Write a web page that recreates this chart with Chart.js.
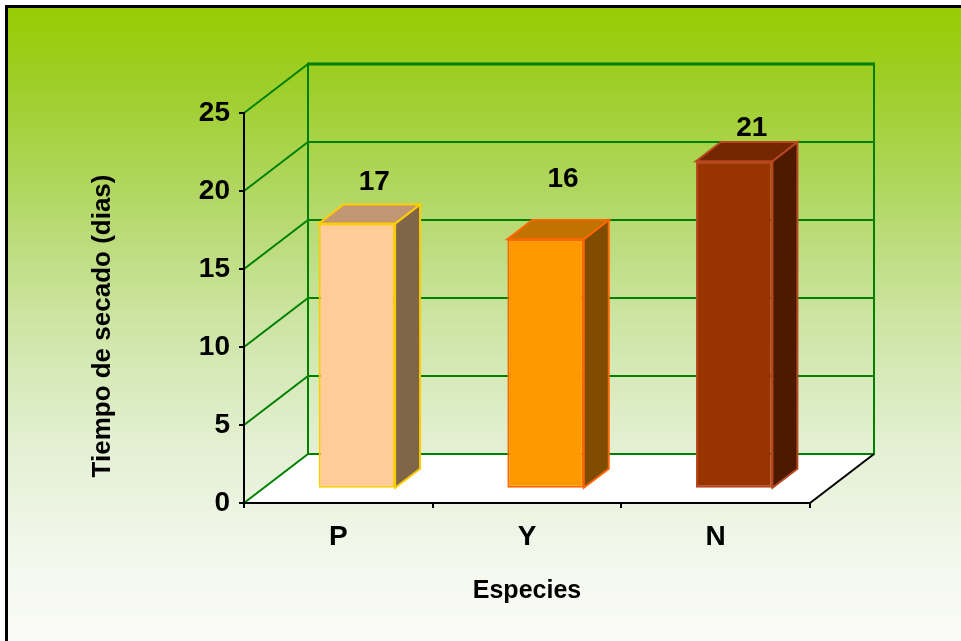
<!DOCTYPE html>
<html>
<head>
<meta charset="utf-8">
<script src="https://cdn.jsdelivr.net/npm/chart.js@4"></script>
<style>
  html, body { margin: 0; padding: 0; background: #fff; }
  #wrap { width: 961px; height: 641px; }
</style>
</head>
<body>
<div id="wrap"><canvas id="c" width="961" height="641"></canvas></div>
<script>
// Drying time per species
const species = ['P', 'Y', 'N'];
const dryingDays = [17, 16, 21];
const yMin = 0, yMax = 25, yStep = 5;

// Face colours of each box: front, right side, top, outline
const frontFill = ['#FFCC99', '#FF9900', '#993300'];
const sideFill  = ['#7F6649', '#7F4C00', '#4D1A00'];
const topFill   = ['#C09673', '#C07300', '#732600'];
const edgeColor = ['#FFCC00', '#FF6600', '#B8461E'];

const FONT = "'Liberation Sans', Arial, Helvetica, sans-serif";
const GREEN = '#008000';

// Oblique offset of the back wall relative to the front plane
const DEPTH = { dx: 64, dy: -49 };
// Bars occupy this slice of the box depth
const BAR_FRONT = 0.29, BAR_BACK = 0.68;
// How far each value label sits above its box
const labelLift = [41, 60, 33];

function line(ctx, x1, y1, x2, y2) {
  ctx.beginPath(); ctx.moveTo(x1, y1); ctx.lineTo(x2, y2); ctx.stroke();
}
function poly(ctx, pts, fill, stroke, lw) {
  ctx.beginPath();
  ctx.moveTo(pts[0][0], pts[0][1]);
  for (let i = 1; i < pts.length; i++) ctx.lineTo(pts[i][0], pts[i][1]);
  ctx.closePath();
  ctx.fillStyle = fill; ctx.fill();
  ctx.lineJoin = 'miter';
  ctx.strokeStyle = stroke; ctx.lineWidth = lw; ctx.stroke();
}

const box3d = {
  id: 'box3d',
  beforeDraw(chart) {
    const { ctx, chartArea: a, scales: { y } } = chart;
    const W = chart.width, H = chart.height;
    const { dx, dy } = DEPTH;
    ctx.save();
    ctx.fillStyle = '#fff';
    ctx.fillRect(0, 0, W, H);

    // panel background: green fading to white
    const g = ctx.createLinearGradient(0, 6, 0, H);
    g.addColorStop(0.00, 'rgb(153,204,0)');
    g.addColorStop(0.12, 'rgb(158,206,40)');
    g.addColorStop(0.30, 'rgb(178,215,100)');
    g.addColorStop(0.50, 'rgb(205,229,165)');
    g.addColorStop(0.70, 'rgb(228,240,212)');
    g.addColorStop(0.88, 'rgb(244,248,238)');
    g.addColorStop(1.00, 'rgb(250,251,247)');
    ctx.fillStyle = g;
    ctx.fillRect(6, 6, W, H);

    // panel frame (top and left edges)
    ctx.strokeStyle = '#000';
    ctx.lineWidth = 3;
    ctx.beginPath();
    ctx.moveTo(6.5, H + 5); ctx.lineTo(6.5, 6.5); ctx.lineTo(W + 5, 6.5);
    ctx.stroke();

    const y0 = y.getPixelForValue(yMin);
    const yTop = y.getPixelForValue(yMax);

    // floor
    ctx.beginPath();
    ctx.moveTo(a.left, y0); ctx.lineTo(a.right, y0);
    ctx.lineTo(a.right + dx, y0 + dy); ctx.lineTo(a.left + dx, y0 + dy);
    ctx.closePath();
    ctx.fillStyle = '#fff';
    ctx.fill();

    // side-wall diagonals and back-wall gridlines
    ctx.strokeStyle = GREEN;
    ctx.lineCap = 'butt';
    for (let v = yMin; v <= yMax; v += yStep) {
      const yf = y.getPixelForValue(v);
      ctx.lineWidth = 2;
      line(ctx, a.left, yf, a.left + dx, yf + dy);
      ctx.lineWidth = v === yMax ? 3 : 2;
      line(ctx, a.left + dx - 1, yf + dy, a.right + dx + 1, yf + dy);
    }
    // back-wall edges
    ctx.lineWidth = 2;
    line(ctx, a.left + dx, yTop + dy, a.left + dx, y0 + dy);
    line(ctx, a.right + dx, yTop + dy, a.right + dx, y0 + dy);

    // right edge of the floor
    ctx.strokeStyle = '#000';
    line(ctx, a.right, y0, a.right + dx, y0 + dy);

    // vertical axis title
    ctx.save();
    ctx.translate(103, 326);
    ctx.rotate(-Math.PI / 2);
    ctx.fillStyle = '#000';
    ctx.font = 'bold 26px ' + FONT;
    ctx.textAlign = 'center';
    ctx.textBaseline = 'middle';
    ctx.fillText('Tiempo de secado (dias)', 0, 0);
    ctx.restore();

    ctx.restore();
  },
  beforeDatasetsDraw(chart) {
    // front faces are drawn by the bar controller, pushed back into the box
    const { ctx } = chart;
    ctx.save();
    ctx.translate(DEPTH.dx * BAR_FRONT, DEPTH.dy * BAR_FRONT);
  },
  afterDatasetsDraw(chart) {
    const { ctx } = chart;
    ctx.restore();
    const fx = DEPTH.dx * BAR_FRONT, fy = DEPTH.dy * BAR_FRONT;
    const bx = DEPTH.dx * (BAR_BACK - BAR_FRONT), by = DEPTH.dy * (BAR_BACK - BAR_FRONT);
    const meta = chart.getDatasetMeta(0);
    ctx.save();
    meta.data.forEach((bar, i) => {
      const { x, y, base, width } = bar.getProps(['x', 'y', 'base', 'width'], true);
      const l = x - width / 2 + fx, r = x + width / 2 + fx;
      const t = y + fy, b = base + fy;
      // right side
      poly(ctx, [[r, t], [r + bx, t + by], [r + bx, b + by], [r, b]], sideFill[i], edgeColor[i], 2);
      // top
      poly(ctx, [[l, t], [r, t], [r + bx, t + by], [l + bx, t + by]], topFill[i], edgeColor[i], 2);
    });

    // value labels
    ctx.fillStyle = '#000';
    ctx.font = 'bold 28px ' + FONT;
    ctx.textAlign = 'center';
    ctx.textBaseline = 'middle';
    meta.data.forEach((bar, i) => {
      const { x, y } = bar.getProps(['x', 'y'], true);
      ctx.fillText(String(dryingDays[i]), x + fx + bx * 0.7, y + fy - labelLift[i]);
    });
    ctx.restore();
  }
};

new Chart(document.getElementById('c'), {
  type: 'bar',
  data: {
    labels: species,
    datasets: [{
      data: dryingDays,
      backgroundColor: frontFill,
      borderColor: edgeColor,
      borderWidth: 2,
      borderSkipped: false,
      categoryPercentage: 1,
      barPercentage: 0.405
    }]
  },
  options: {
    responsive: false,
    animation: false,
    devicePixelRatio: 1,
    layout: { padding: { left: 0, top: 113, right: 151, bottom: 0 } },
    plugins: { legend: { display: false }, tooltip: { enabled: false } },
    scales: {
      x: {
        afterFit(s) { s.height = 138; },
        grid: { drawOnChartArea: false, drawTicks: true, tickLength: 5, color: '#000', lineWidth: 2, offset: true },
        border: { display: true, color: '#000', width: 2 },
        ticks: { color: '#000', padding: 12, font: { family: FONT, size: 28, weight: 'bold' } },
        title: {
          display: true, text: 'Especies', color: '#000',
          font: { family: FONT, size: 25, weight: 'bold' },
          padding: { top: 0, bottom: 35 }
        }
      },
      y: {
        min: yMin, max: yMax,
        afterFit(s) { s.width = 244; },
        grid: { drawOnChartArea: false, drawTicks: true, tickLength: 5, color: '#000', lineWidth: 2 },
        border: { display: true, color: '#000', width: 2 },
        ticks: { stepSize: yStep, color: '#000', padding: 9, font: { family: FONT, size: 28, weight: 'bold' } }
      }
    }
  },
  plugins: [box3d]
});
</script>
</body>
</html>
